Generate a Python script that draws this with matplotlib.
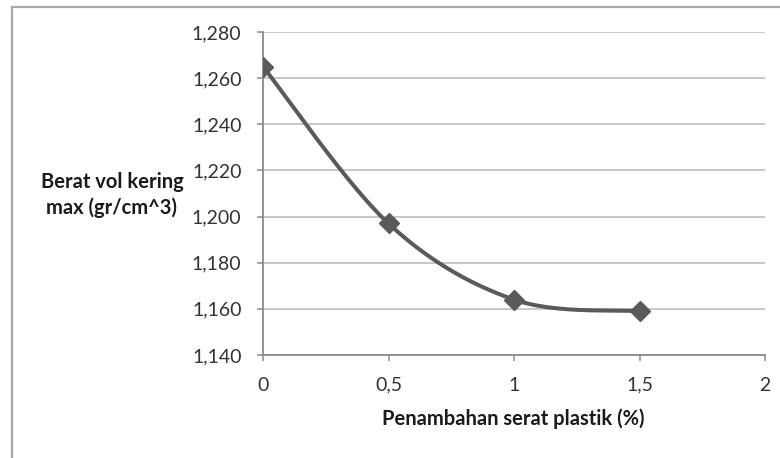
import numpy as np
import matplotlib
matplotlib.use("Agg")
import matplotlib.pyplot as plt
from matplotlib.lines import Line2D
from matplotlib.ticker import FuncFormatter

# data
serat = [0, 0.5, 1, 1.5]
berat = [1.265, 1.197, 1.164, 1.159]
xticks = [0, 0.5, 1, 1.5, 2]
yticks = [1.140, 1.160, 1.180, 1.200, 1.220, 1.240, 1.260, 1.280]

xlabel = "Penambahan serat plastik (%)"
ylabel = "Berat vol kering\nmax (gr/cm^3)"

line_col = "#5a5a5a"
grid_col = "#c4c4c4"
axis_col = "#8a8a8a"


def smooth(xs, ys, n=60):
    # excel-like smoothed line: catmull-rom segments between the points
    p = np.column_stack([xs, ys])
    p = np.vstack([p[0], p, p[-1]])
    out = []
    t = np.linspace(0, 1, n)[:, None]
    for i in range(1, len(p) - 2):
        p0, p1, p2, p3 = p[i - 1], p[i], p[i + 1], p[i + 2]
        c1 = p1 + (p2 - p0) / 6
        c2 = p2 - (p3 - p1) / 6
        seg = ((1 - t) ** 3) * p1 + 3 * ((1 - t) ** 2) * t * c1 \
            + 3 * (1 - t) * t ** 2 * c2 + t ** 3 * p2
        out.append(seg)
    c = np.vstack(out)
    return c[:, 0], c[:, 1]


plt.rcParams['font.family'] = ['Lato', 'DejaVu Sans']

fig = plt.figure(figsize=(7.8, 4.58), dpi=100)
ax = fig.add_axes([263 / 780, 1 - 355 / 458, (765 - 263) / 780, (355 - 32) / 458])

sx, sy = smooth(serat, berat)
ax.plot(sx, sy, color=line_col, linewidth=2.9, solid_capstyle='round', zorder=3)
ax.plot(serat, berat, linestyle='none', marker='D', markersize=10,
        color=line_col, zorder=4)

ax.set_xlim(0, 2)
ax.set_ylim(1.140, 1.280)
ax.set_xticks(xticks)
ax.set_yticks(yticks)
ax.xaxis.set_major_formatter(FuncFormatter(lambda v, _: ('%g' % v).replace('.', ',')))
ax.yaxis.set_major_formatter(FuncFormatter(lambda v, _: ('%.3f' % v).replace('.', ',')))

ax.grid(axis='y', color=grid_col, linewidth=1.3)
ax.set_axisbelow(True)
for s in ['top', 'right']:
    ax.spines[s].set_visible(False)
for s in ['left', 'bottom']:
    ax.spines[s].set_color(axis_col)
    ax.spines[s].set_linewidth(1.3)
ax.tick_params(axis='both', direction='out', length=4.5, width=1.1,
               color=axis_col, labelsize=14, labelcolor='#333333')
ax.tick_params(axis='y', pad=11)
ax.tick_params(axis='x', pad=11)

fig.text(513 / 780, 1 - 419 / 458, xlabel, ha='center', va='center',
         fontsize=14.5, fontweight='bold', color='#1a1a1a')
fig.text(112 / 780, 1 - 195 / 458, ylabel, ha='center', va='center',
         fontsize=14.5, fontweight='bold', color='#1a1a1a', linespacing=1.3)

# chart frame (cut off at right and bottom)
fig.add_artist(Line2D([12 / 780, 1.0], [1 - 7 / 458, 1 - 7 / 458],
                      transform=fig.transFigure, color='#a8a8a8', linewidth=1.6))
fig.add_artist(Line2D([12 / 780, 12 / 780], [0, 1 - 7 / 458],
                      transform=fig.transFigure, color='#a8a8a8', linewidth=1.6))

fig.savefig("out.png", dpi=100, facecolor='white')
